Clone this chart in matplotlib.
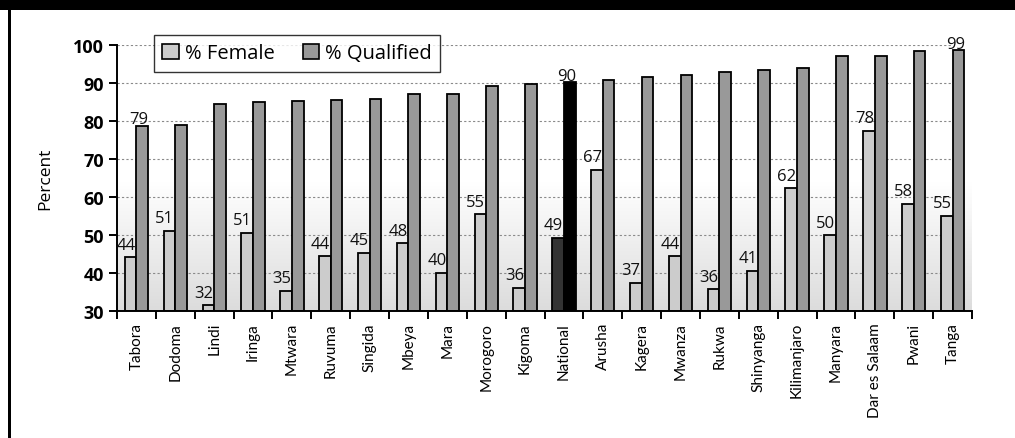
import matplotlib
matplotlib.use("Agg")
import matplotlib.pyplot as plt
import numpy as np
from matplotlib.patches import Patch, Rectangle
from matplotlib.colors import LinearSegmentedColormap

regions = ["Tabora", "Dodoma", "Lindi", "Iringa", "Mtwara", "Ruvuma", "Singida",
           "Mbeya", "Mara", "Morogoro", "Kigoma", "National", "Arusha", "Kagera",
           "Mwanza", "Rukwa", "Shinyanga", "Kilimanjaro", "Manyara",
           "Dar es Salaam", "Pwani", "Tanga"]
female = [44.1, 51.0, 31.5, 50.6, 35.2, 44.4, 45.2, 47.8, 40.1, 55.4, 36.1, 49.2,
          67.1, 37.4, 44.4, 35.7, 40.6, 62.3, 49.9, 77.5, 58.2, 55.0]
qualified = [78.7, 78.9, 84.6, 85.0, 85.2, 85.4, 85.7, 87.0, 87.2, 89.1, 89.8, 90.2,
             90.9, 91.7, 92.0, 92.8, 93.5, 94.0, 97.2, 97.2, 98.4, 98.6]
qualified_labelled = ["Tabora", "National", "Tanga"]
yticks = [30, 40, 50, 60, 70, 80, 90, 100]
legend_labels = ["% Female", "% Qualified"]

W, H = 1015, 439
fig = plt.figure(figsize=(W / 100, H / 100), dpi=100)
fig.patch.set_facecolor("white")

# frame decorations
fig.add_artist(Rectangle((0, 1 - 11 / H), 1, 11 / H, transform=fig.transFigure,
                         facecolor="black", edgecolor="none", zorder=0))
fig.add_artist(Rectangle((8 / W, 0), 2.8 / W, 1, transform=fig.transFigure,
                         facecolor="black", edgecolor="none", zorder=0))

ax = fig.add_axes([117 / W, 1 - 312 / H, (972 - 117) / W, (312 - 46) / H])
n = len(regions)
x = np.arange(n)
bw = 0.3

# gradient background
grad = np.linspace(0, 1, 100).reshape(-1, 1)
cmap = LinearSegmentedColormap.from_list("g", ["#dcdcdc", "#ffffff"])
ax.imshow(grad, cmap=cmap, aspect="auto", extent=[-0.5, 21.55, 30, 64],
          origin="lower", zorder=0)

# grid
for yv in yticks[1:]:
    ax.plot([-0.5, 20.96], [yv, yv], color="#8a8a8a", lw=0.8,
            ls=(0, (2, 2)), zorder=1)

nat = regions.index("National")
fcol = ["#333333" if i == nat else "#cccccc" for i in range(n)]
qcol = ["#000000" if i == nat else "#999999" for i in range(n)]
ax.bar(x - bw / 2, np.array(female) - 30, bw, bottom=30, color=fcol,
       edgecolor="black", linewidth=1.3, zorder=3)
ax.bar(x + bw / 2, np.array(qualified) - 30, bw, bottom=30, color=qcol,
       edgecolor="black", linewidth=1.3, zorder=3)

lab_font = dict(family="Open Sans", fontsize=12, color="#111111")
for i, v in enumerate(female):
    ax.annotate(f"{v:.0f}", (i - 0.27, v), xytext=(0, 6.3), textcoords="offset points",
                ha="center", va="baseline", zorder=5, annotation_clip=False, **lab_font)
for name in qualified_labelled:
    i = regions.index(name)
    v = qualified[i]
    ax.annotate(f"{v:.0f}", (i + 0.07, v), xytext=(0, 1.8), textcoords="offset points",
                ha="center", va="baseline", zorder=5, annotation_clip=False, **lab_font)

ax.set_xlim(-0.5, 21.5)
ax.set_ylim(30, 100)
ax.set_facecolor("white")
for s in ["top", "right"]:
    ax.spines[s].set_visible(False)
for s in ["left", "bottom"]:
    ax.spines[s].set_linewidth(1.4)
    ax.spines[s].set_color("black")
ax.spines["bottom"].set_zorder(6)

ax.set_yticks(yticks)
ax.set_yticklabels([str(t) for t in yticks], fontfamily="Open Sans",
                   fontweight="bold", fontsize=13)
ax.tick_params(axis="y", direction="out", length=5.5, width=1.4, pad=4)

ax.set_xticks(x)
ax.set_xticklabels(regions, rotation=90, fontfamily="Lato", fontsize=11)
ax.set_xticks(np.arange(n + 1) - 0.5, minor=True)
ax.tick_params(axis="x", which="major", length=0, pad=8)
ax.tick_params(axis="x", which="minor", direction="out", length=6, width=1.4)

ax.set_ylabel("Percent", fontfamily="Open Sans", fontsize=12.5, labelpad=14)

handles = [Patch(facecolor="#cccccc", edgecolor="black", linewidth=1.2),
           Patch(facecolor="#999999", edgecolor="black", linewidth=1.2)]
leg = fig.legend(handles, legend_labels, loc="upper left",
                 bbox_to_anchor=(154 / W, 1 - 36 / H), ncol=2,
                 prop=dict(family="Open Sans", size=14.5), frameon=True,
                 fancybox=False, edgecolor="black", handlelength=0.8,
                 handleheight=0.8, handletextpad=0.3, columnspacing=1.4,
                 borderpad=0.42, borderaxespad=0)
leg.get_frame().set_linewidth(1.0)
leg.set_zorder(10)

fig.savefig("out.png", dpi=100, facecolor="white")
